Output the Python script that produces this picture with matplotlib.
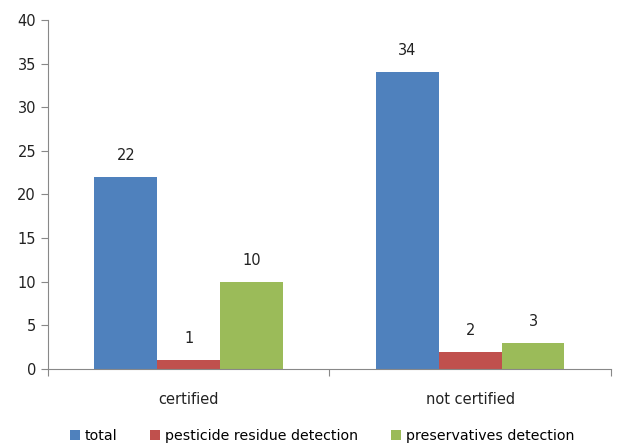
import matplotlib.pyplot as plt
import numpy as np

categories = ['certified', 'not certified']
series_names = ['total', 'pesticide residue detection', 'preservatives detection']
total = [22, 34]
pesticide = [1, 2]
preservatives = [10, 3]
colors = ['#4F81BD', '#C0504D', '#9BBB59']

fig = plt.figure(figsize=(6.21, 4.44), dpi=100)
ax = fig.add_axes([0.077, 0.169, 0.907, 0.786])

x = np.arange(len(categories))
w = 0.223
for i, (vals, name, c) in enumerate(zip([total, pesticide, preservatives], series_names, colors)):
    pos = x + (i - 1) * w
    ax.bar(pos, vals, w, color=c, label=name)
    for p, v in zip(pos, vals):
        ax.text(p, v + 1.6, str(v), ha='center', va='bottom', fontsize=10.5, color='#222222')

ax.set_xlim(-0.5, 1.5)
ax.set_ylim(0, 40)
ax.set_yticks(range(0, 41, 5))
ax.set_xticks([-0.5, 0.5, 1.5])
ax.set_xticklabels([])
ax.tick_params(axis='both', colors='#888888', labelcolor='#222222', labelsize=10.5, length=5)
for i, cat in enumerate(categories):
    ax.text(x[i], -2.6, cat, ha='center', va='top', fontsize=10.5, color='#222222')

for s in ['top', 'right']:
    ax.spines[s].set_visible(False)
for s in ['left', 'bottom']:
    ax.spines[s].set_color('#888888')

ax.legend(loc='upper center', bbox_to_anchor=(0.487, -0.135), ncol=3, frameon=False,
          fontsize=10.2, handlelength=0.7, handleheight=0.7, handletextpad=0.35,
          columnspacing=2.3)

fig.savefig('out.png', dpi=100)
